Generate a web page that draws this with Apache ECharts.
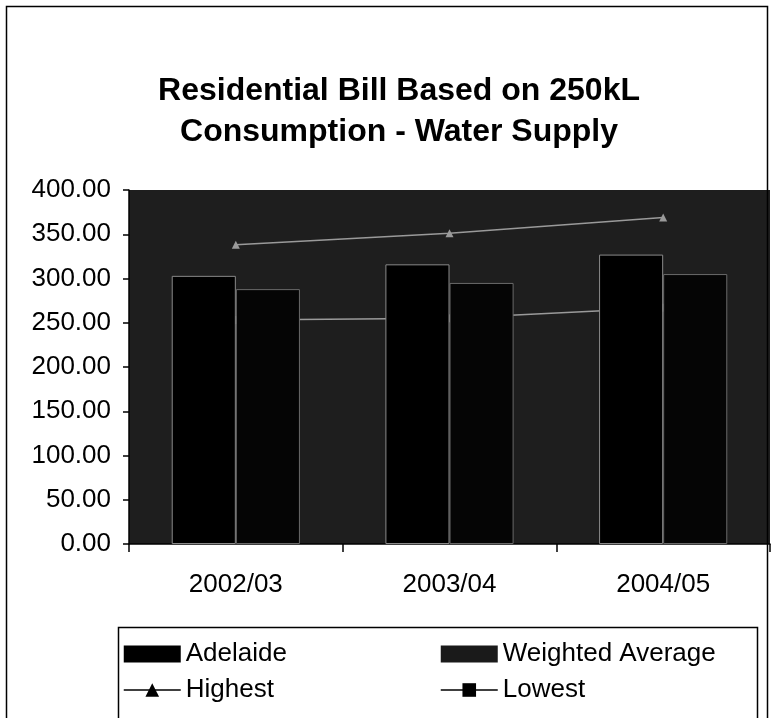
<!DOCTYPE html>
<html>
<head>
<meta charset="utf-8">
<script src="https://cdn.jsdelivr.net/npm/echarts@6/dist/echarts.min.js"></script>
<style>
  html, body { margin: 0; padding: 0; background: #fff; }
  #chart { width: 772px; height: 718px; }
</style>
</head>
<body>
<div id="chart"></div>
<script>
// Financial years on the category axis
const years = ['2002/03', '2003/04', '2004/05'];

// Annual residential water supply bill ($) for 250kL
const adelaide = [303, 316, 327];
const weightedAverage = [288, 295, 305];
const highest = [338, 351, 369];
const lowest = [253, 255, 267];

// Value axis ticks
const yMin = 0;
const yMax = 400;
const yStep = 50;

const chart = echarts.init(document.getElementById('chart'));

const font = '"Liberation Sans", Arial, sans-serif';

chart.setOption({
  backgroundColor: '#ffffff',
  animation: false,
  title: {
    text: 'Residential Bill Based on 250kL\nConsumption - Water Supply',
    left: 394,
    top: 66,
    textAlign: 'center',
    textStyle: {
      fontFamily: font,
      fontWeight: 'bold',
      fontSize: 32,
      lineHeight: 41,
      color: '#000'
    }
  },
  graphic: [
    {
      type: 'rect',
      shape: { x: 6.5, y: 6.5, width: 761, height: 720 },
      style: { fill: 'none', stroke: '#000', lineWidth: 1.5 },
      silent: true
    },
    {
      type: 'rect',
      shape: { x: 118.5, y: 627.5, width: 639, height: 95 },
      style: { fill: 'none', stroke: '#000', lineWidth: 1.5 },
      silent: true
    }
  ],
  legend: [
    {
      orient: 'vertical',
      left: 118,
      top: 636,
      itemWidth: 57,
      itemHeight: 17,
      itemGap: 10,
      textStyle: { fontFamily: font, fontSize: 26, color: '#000' },
      data: [
        { name: 'Adelaide', icon: 'rect', itemStyle: { color: '#000', borderWidth: 0 } },
        { name: 'Highest', itemStyle: { color: '#000' }, lineStyle: { color: '#000', width: 1.5 } }
      ]
    },
    {
      orient: 'vertical',
      left: 435,
      top: 636,
      itemWidth: 57,
      itemHeight: 17,
      itemGap: 10,
      textStyle: { fontFamily: font, fontSize: 26, color: '#000' },
      data: [
        { name: 'Weighted Average', icon: 'rect', itemStyle: { color: '#1a1a1a', borderWidth: 0 } },
        { name: 'Lowest', itemStyle: { color: '#000' }, lineStyle: { color: '#000', width: 1.5 } }
      ]
    }
  ],
  grid: {
    left: 129,
    top: 190,
    width: 641,
    height: 354,
    show: true,
    backgroundColor: '#1e1e1e',
    borderWidth: 0
  },
  xAxis: {
    type: 'category',
    data: years,
    boundaryGap: true,
    axisLine: { lineStyle: { color: '#000', width: 1.5 } },
    axisTick: { show: true, length: 8, lineStyle: { color: '#000', width: 1.5 } },
    axisLabel: { margin: 28, fontFamily: font, fontSize: 26, color: '#000' },
    splitLine: { show: false }
  },
  yAxis: {
    type: 'value',
    min: yMin,
    max: yMax,
    interval: yStep,
    axisLine: { show: true, lineStyle: { color: '#000', width: 1.5 } },
    axisTick: { show: true, length: 6, lineStyle: { color: '#000', width: 1.5 } },
    axisLabel: {
      margin: 18,
      fontFamily: font,
      fontSize: 26,
      color: '#000',
      formatter: v => v.toFixed(2)
    },
    splitLine: { show: false }
  },
  series: [
    {
      name: 'Highest',
      type: 'line',
      data: highest,
      z: 1,
      symbol: 'triangle',
      symbolSize: 8,
      lineStyle: { color: '#9a9a9a', width: 1.5 },
      itemStyle: { color: '#9a9a9a' }
    },
    {
      name: 'Lowest',
      type: 'line',
      data: lowest,
      z: 1,
      symbol: 'rect',
      symbolSize: 8,
      lineStyle: { color: '#9a9a9a', width: 1.5 },
      itemStyle: { color: '#9a9a9a' }
    },
    {
      name: 'Adelaide',
      type: 'bar',
      data: adelaide,
      z: 3,
      barGap: '0%',
      barCategoryGap: '40%',
      itemStyle: { color: '#000', borderColor: '#8a8a8a', borderWidth: 1 }
    },
    {
      name: 'Weighted Average',
      type: 'bar',
      data: weightedAverage,
      z: 3,
      itemStyle: { color: '#050505', borderColor: '#6a6a6a', borderWidth: 1 }
    }
  ]
});
</script>
</body>
</html>
